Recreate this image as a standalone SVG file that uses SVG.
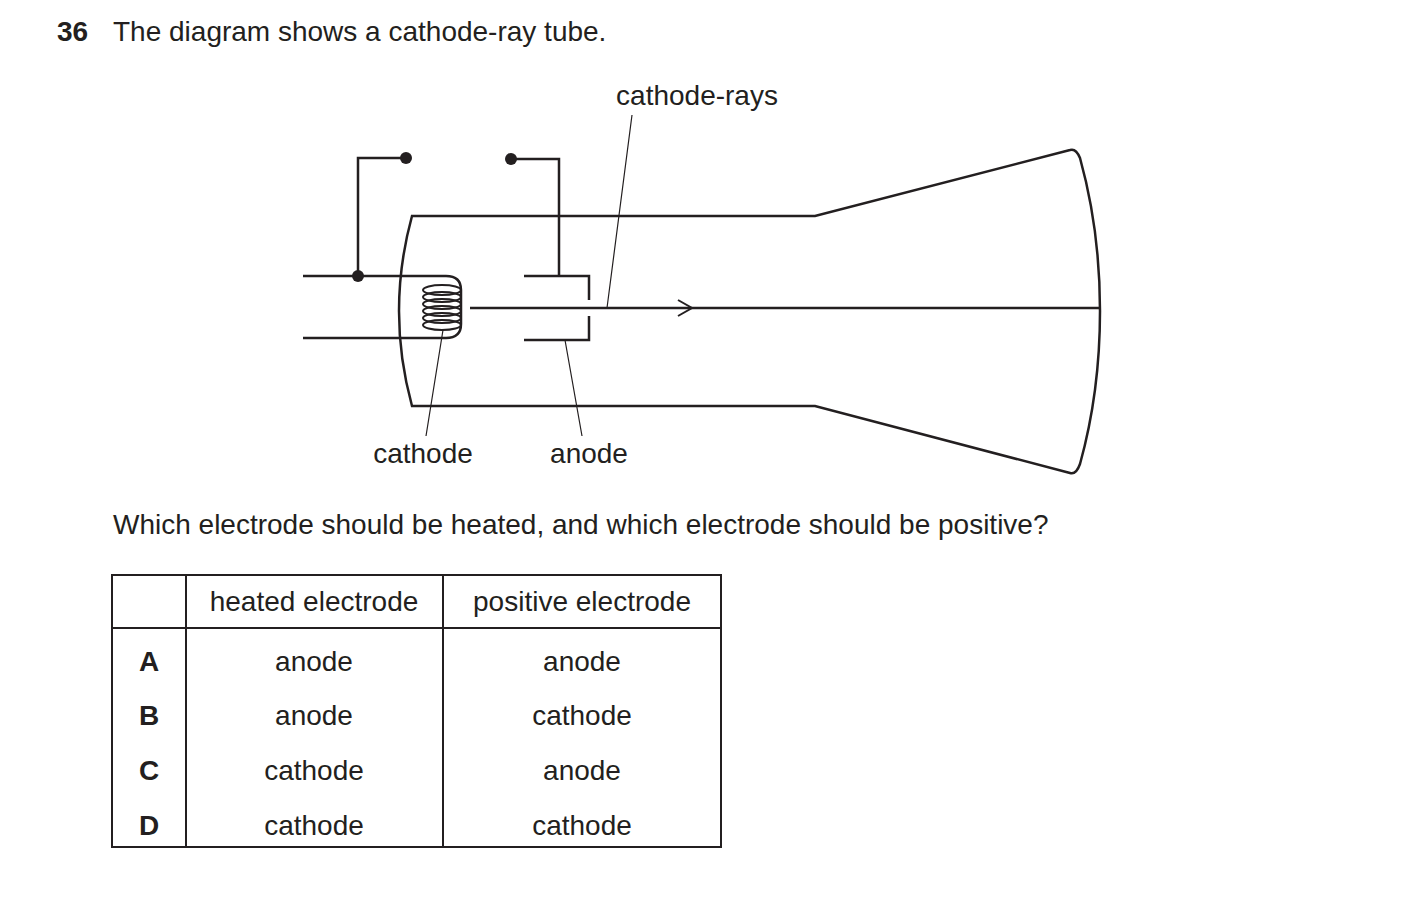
<svg xmlns="http://www.w3.org/2000/svg" width="1403" height="897" viewBox="0 0 1403 897">
<style>
text{font-family:"Liberation Sans",Arial,sans-serif;font-size:28px;fill:#231f20}
.w{fill:none;stroke:#231f20;stroke-width:2.5}
.t{fill:none;stroke:#231f20;stroke-width:1.2}
.c{fill:none;stroke:#231f20;stroke-width:2}
.m{text-anchor:middle}
</style>
<rect width="1403" height="897" fill="#fff"/>
<text x="57" y="41" font-weight="bold">36</text>
<text x="113" y="41">The diagram shows a cathode-ray tube.</text>
<g id="tube">
<path class="w" d="M412,216 H815 L1070,150 Q1076,148 1080,158 Q1100,230 1100,311 Q1100,392 1080,464 Q1076,475 1070,473 L815,406 H412 Q386,311 412,216 Z"/>
</g>
<g id="cathode">
<path class="w" d="M303,276 H446 Q461,276 461,290 V324 Q461,338 446,338 H303"/>
<g class="c">
<ellipse cx="442" cy="290" rx="19" ry="5"/><ellipse cx="442" cy="297" rx="19" ry="5"/><ellipse cx="442" cy="304" rx="19" ry="5"/><ellipse cx="442" cy="311" rx="19" ry="5"/><ellipse cx="442" cy="318" rx="19" ry="5"/><ellipse cx="442" cy="325" rx="19" ry="5"/>
</g>
<path class="w" d="M358,276 V158 H406"/>
<circle cx="358" cy="276" r="6" fill="#231f20"/>
<circle cx="406" cy="158" r="6" fill="#231f20"/>
</g>
<g id="anode">
<path class="w" d="M511,159 H559 V276"/>
<circle cx="511" cy="159" r="6" fill="#231f20"/>
<path class="w" d="M524,276 H589 V300 M524,340 H589 V316"/>
</g>
<g id="connectors">
<path class="w" d="M470,308 H1100"/>
<path class="c" d="M678,300 L692,308 L678,316"/>
<path class="t" d="M632,115 L607,308 M443,330 L426,436 M565,340 L582,436"/>
</g>
<text x="697" y="105" class="m">cathode-rays</text>
<text x="423" y="463" class="m">cathode</text>
<text x="589" y="463" class="m">anode</text>
<text x="113" y="534">Which electrode should be heated, and which electrode should be positive?</text>
<g id="table">
<path class="c" d="M112,575 H721 V847 H112 Z M112,628 H721 M186,575 V847 M443,575 V847"/>
<text x="314" y="611" class="m">heated electrode</text>
<text x="582" y="611" class="m">positive electrode</text>
<text x="149" y="671" class="m" font-weight="bold">A</text><text x="149" y="725" class="m" font-weight="bold">B</text><text x="149" y="780" class="m" font-weight="bold">C</text><text x="149" y="835" class="m" font-weight="bold">D</text>
<text x="314" y="671" class="m">anode</text><text x="582" y="671" class="m">anode</text>
<text x="314" y="725" class="m">anode</text><text x="582" y="725" class="m">cathode</text>
<text x="314" y="780" class="m">cathode</text><text x="582" y="780" class="m">anode</text>
<text x="314" y="835" class="m">cathode</text><text x="582" y="835" class="m">cathode</text>
</g>
</svg>
